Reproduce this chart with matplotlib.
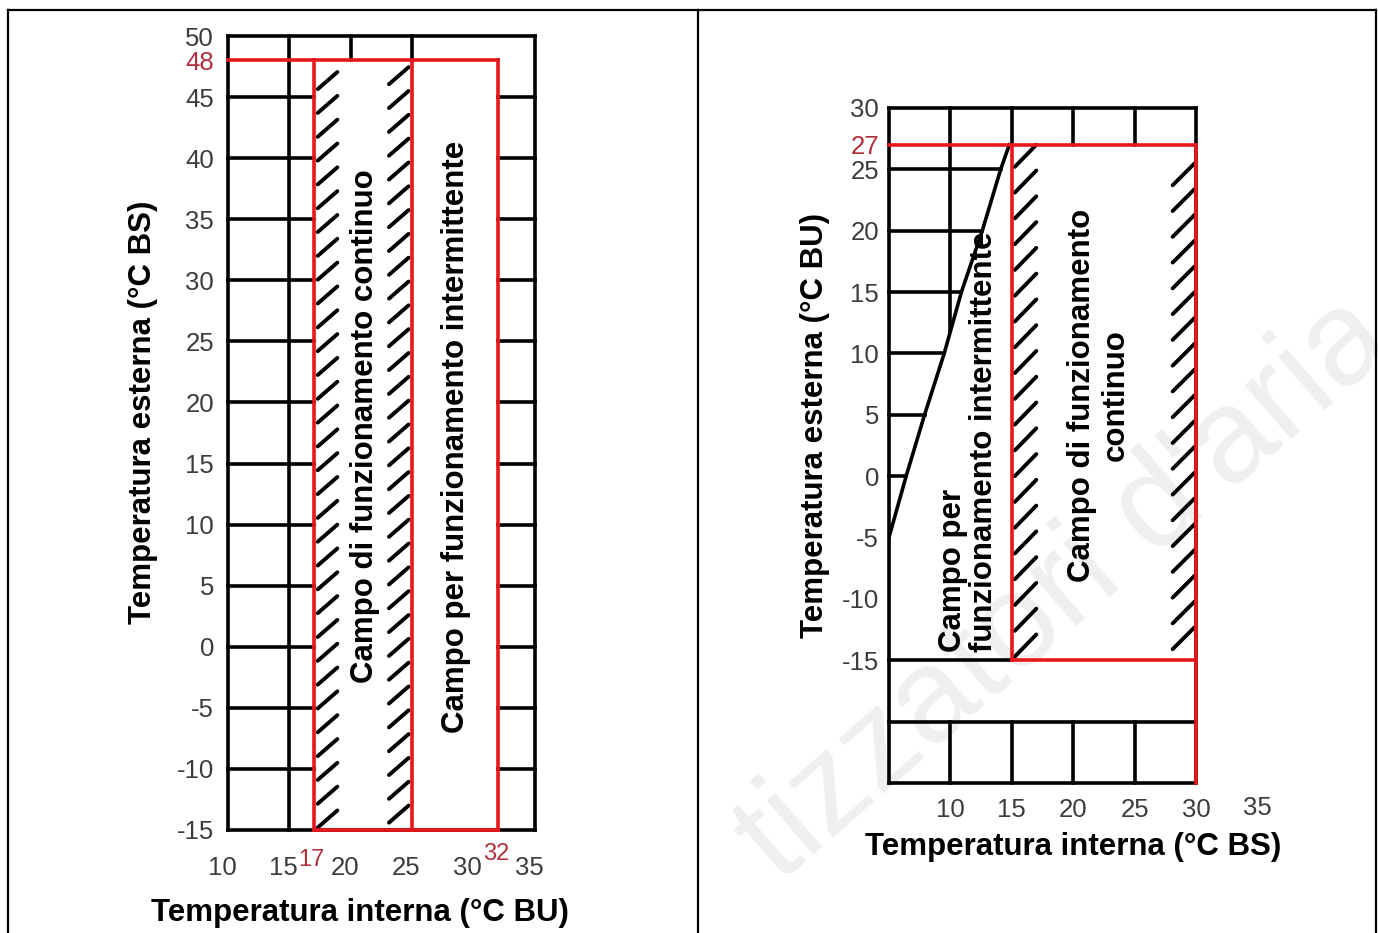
import numpy as np
import matplotlib.pyplot as plt
from matplotlib.lines import Line2D
from matplotlib.transforms import ScaledTranslation

plt.rcParams['font.family'] = ['Liberation Sans', 'DejaVu Sans']

RED = '#e8161d'
RED_TXT = '#b0303c'
TICK_C = '#3c3c3c'

# ---- left chart: outdoor (dry bulb) vs indoor (wet bulb) ----
l_xlim = (10, 35)
l_ylim = (-15, 50)
l_xticks = [10, 15, 20, 25, 30, 35]
l_yticks = [50, 48, 45, 40, 35, 30, 25, 20, 15, 10, 5, 0, -5, -10, -15]
l_ylabels = ['50', '48', '45', '40', '35', '30', '25', '20', '15', '10', '5', '0', '-5', '-10', '-15']
l_grid_y = [-10, -5, 0, 5, 10, 15, 20, 25, 30, 35, 40, 45]
l_cont = (17, 25)      # campo di funzionamento continuo
l_inter = (25, 32)     # campo per funzionamento intermittente
l_top = 48
l_bottom = -15

# ---- right chart: outdoor (wet bulb) vs indoor (dry bulb) ----
r_xlim = (5, 30)
r_ylim = (-25, 30)
r_xticks = [10, 15, 20, 25, 30, 35]
r_yticks = [30, 27, 25, 20, 15, 10, 5, 0, -5, -10, -15]
r_ylabels = ['30', '27', '25', '20', '15', '10', '5', '0', '-5', '-10', '-15']
r_grid_y = [0, 5, 10, 15, 20, 25]
r_cont = (15, 30)
r_top = 27
r_bottom = -15
# boundary line of the intermittent zone
curve_x = [5.0, 6.4, 7.9, 9.5, 10.9, 12.6, 14.1, 14.8]
curve_y = [-5.0, 0.0, 5.0, 10.0, 15.0, 20.0, 25.0, 27.0]

LW = 2.6


def seg(ax, xs, ys, color='black', lw=LW, z=3):
    ax.plot(xs, ys, color=color, lw=lw, zorder=z, clip_on=False,
            solid_capstyle='projecting')


def hatch(ax, x0, x1, y_from, y_to, step, rise):
    # short diagonal strokes along the edge of a zone
    for yb in np.arange(y_from, y_to, step):
        ax.plot([x0, x1], [yb, yb + rise], color='black', lw=2.8,
                zorder=3, solid_capstyle='round')


def style_axes(ax, xlim, ylim):
    ax.set_xlim(*xlim)
    ax.set_ylim(*ylim)
    ax.set_facecolor('none')
    for s in ax.spines.values():
        s.set_linewidth(LW)
        s.set_zorder(3)
    ax.tick_params(length=0, labelsize=18.5, labelcolor=TICK_C)


fig = plt.figure(figsize=(13.78, 9.33), dpi=100)

# watermark, behind everything
fig.text(0.997, 0.655, "tizzatori d'aria", rotation=41, rotation_mode='anchor',
         ha='right', va='center', fontsize=96, color='#efefef', zorder=-1)

# outer frame
for xf in [0.0058, 0.5065, 0.9985]:
    fig.add_artist(Line2D([xf, xf], [0, 0.9893], color='black', lw=1.6))
fig.add_artist(Line2D([0.0058, 0.9985], [0.9893, 0.9893], color='black', lw=1.6))

# ================= left =================
ax = fig.add_axes([0.1655, 0.1104, 0.2228, 0.851])
style_axes(ax, l_xlim, l_ylim)

for y in l_grid_y:
    seg(ax, [l_xlim[0], l_cont[0]], [y, y])
    seg(ax, [l_inter[1], l_xlim[1]], [y, y])
seg(ax, [15, 15], list(l_ylim))
for x in [20, 25]:
    seg(ax, [x, x], [l_top, l_ylim[1]])

seg(ax, [l_xlim[0], l_inter[1]], [l_top, l_top], RED, z=4)
seg(ax, [l_cont[0], l_inter[1]], [l_bottom, l_bottom], RED, z=4)
for x in [l_cont[0], l_cont[1], l_inter[1]]:
    seg(ax, [x, x], [l_bottom, l_top], RED, z=4)

hatch(ax, l_cont[0] + 0.3, l_cont[0] + 1.9, l_bottom + 0.2, l_top - 1.2, 1.95, 1.4)
hatch(ax, l_cont[1] - 1.9, l_cont[1] - 0.3, l_bottom + 0.6, l_top - 1.2, 1.95, 1.4)

ax.set_xticks(l_xticks)
ax.set_xticklabels([str(v) for v in l_xticks])
ax.tick_params(axis='x', pad=19)
shift = ScaledTranslation(-0.06, 0, fig.dpi_scale_trans)
for lab in ax.get_xticklabels():
    lab.set_transform(lab.get_transform() + shift)
ax.set_yticks(l_yticks)
ax.set_yticklabels(l_ylabels)
ax.tick_params(axis='y', pad=10)
for lab in ax.get_yticklabels():
    if lab.get_text() == str(l_top):
        lab.set_color(RED_TXT)
for xv, dy in [(l_cont[0], -0.038), (l_inter[1], -0.030)]:
    ax.text(xv - 0.2, dy, str(xv), transform=ax.get_xaxis_transform(), ha='center',
            va='center', fontsize=17, color=RED_TXT)

ax.text(21.15, 18.1, 'Campo di funzionamento continuo', rotation=90,
        ha='center', va='center', fontsize=22.5, fontweight='bold', zorder=5)
ax.text(28.6, 17.2, 'Campo per funzionamento intermittente', rotation=90,
        ha='center', va='center', fontsize=22.5, fontweight='bold', zorder=5)

ax.text(-0.277, 0.526, 'Temperatura esterna (°C BS)', transform=ax.transAxes,
        rotation=90, ha='center', va='center', fontsize=22.5, fontweight='bold')
ax.text(0.43, -0.1045, 'Temperatura interna (°C BU)', transform=ax.transAxes,
        ha='center', va='center', fontsize=22.5, fontweight='bold')

# ================= right =================
bx = fig.add_axes([0.6451, 0.1608, 0.2228, 0.7235])
style_axes(bx, r_xlim, r_ylim)

bx.plot(curve_x, curve_y, color='black', lw=LW, zorder=3)
for y in r_grid_y:
    seg(bx, [r_xlim[0], np.interp(y, curve_y, curve_x)], [y, y])
seg(bx, [10, 10], [np.interp(10, curve_x, curve_y), r_ylim[1]])
for x in [15, 20, 25]:
    seg(bx, [x, x], [r_top, r_ylim[1]])
seg(bx, [r_xlim[0], r_cont[0]], [r_bottom, r_bottom])
seg(bx, list(r_xlim), [-20, -20])
for x in [10, 15, 20, 25]:
    seg(bx, [x, x], [r_ylim[0], -20])

seg(bx, [r_xlim[0], r_cont[1]], [r_top, r_top], RED, z=4)
seg(bx, [r_cont[0], r_cont[0]], [r_bottom, r_top], RED, z=4)
seg(bx, [r_cont[1], r_cont[1]], [r_ylim[0], r_top], RED, z=4)
seg(bx, [r_cont[0], r_cont[1]], [r_bottom, r_bottom], RED, z=4)

hatch(bx, r_cont[0] + 0.25, r_cont[0] + 2.0, r_bottom + 0.3, r_top - 1.5, 2.1, 1.8)
hatch(bx, r_cont[1] - 1.9, r_cont[1] - 0.1, r_bottom + 0.9, r_top - 1.5, 2.1, 1.8)

bx.set_xticks(r_xticks[:-1])
bx.set_xticklabels([str(v) for v in r_xticks[:-1]])
bx.tick_params(axis='x', pad=11)
bx.text(r_xticks[-1], -0.037, str(r_xticks[-1]), transform=bx.get_xaxis_transform(),
        ha='center', va='center', fontsize=18.5, color=TICK_C)
bx.set_yticks(r_yticks)
bx.set_yticklabels(r_ylabels)
bx.tick_params(axis='y', pad=7)
for lab in bx.get_yticklabels():
    if lab.get_text() == str(r_top):
        lab.set_color(RED_TXT)

bx.text(11.5, -14.3, 'Campo per\nfunzionamento intermittente', rotation=90,
        ha='center', va='bottom', multialignment='left', linespacing=1.05,
        fontsize=22.5, fontweight='bold', zorder=5)
bx.text(22.1, 6.6, 'Campo di funzionamento\ncontinuo', rotation=90,
        ha='center', va='center', multialignment='center', linespacing=1.15,
        fontsize=22.5, fontweight='bold', zorder=5)

bx.text(-0.241, 0.530, 'Temperatura esterna (°C BU)', transform=bx.transAxes,
        rotation=90, ha='center', va='center', fontsize=22.5, fontweight='bold')
bx.text(0.599, -0.0948, 'Temperatura interna (°C BS)', transform=bx.transAxes,
        ha='center', va='center', fontsize=22.5, fontweight='bold')

fig.savefig('out.png', dpi=100)
